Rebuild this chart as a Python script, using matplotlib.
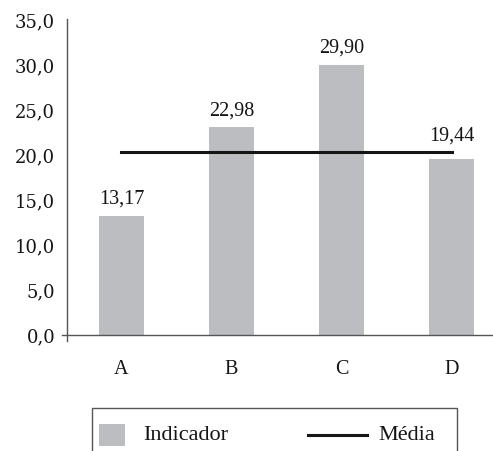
import matplotlib
matplotlib.use("Agg")
import matplotlib.pyplot as plt
from matplotlib.patches import Rectangle
from matplotlib.lines import Line2D

# valores do indicador por categoria
categorias = ["A", "B", "C", "D"]
indicador = [13.17, 22.98, 29.90, 19.44]
media = 20.3
yticks = [0, 5, 10, 15, 20, 25, 30, 35]

W, H = 493, 452
plt.rcParams['font.family'] = ['Liberation Serif', 'DejaVu Serif']

fig = plt.figure(figsize=(W / 100, H / 100), dpi=100)
ax = fig.add_axes([67 / W, 1 - 342 / H, 1 - 67 / W, (342 - 20) / H])

x = list(range(len(categorias)))
cinza = "#bcbdc0"
ax.bar(x, indicador, width=0.41, color=cinza, zorder=2)
ax.plot(x, [media] * len(x), color="#151515", lw=2.2, zorder=3)

# rotulos de valor sobre as barras (sobe o rotulo se bater na linha da media)
for xi, v in zip(x, indicador):
    off = 11 if 0 < media - v < 2.5 else 6
    ax.annotate(f"{v:.2f}".replace(".", ","), (xi, v), xytext=(0, off),
                textcoords="offset points", ha="center", va="bottom",
                fontsize=14.5, color="#151515")

ax.set_xlim(-0.495, 3.377)
ax.set_ylim(-0.7, 35)
ax.set_xticks(x)
ax.set_xticklabels(categorias, fontsize=14.5, color="#151515")
ax.set_yticks(yticks)
ax.set_yticklabels([f"{t:.1f}".replace(".", ",") for t in yticks],
                   fontsize=13, color="#151515", family="DejaVu Serif")
ax.tick_params(axis="both", length=0)
ax.tick_params(axis="y", pad=8.5)
ax.tick_params(axis="x", pad=13)

for s in ["top", "right", "bottom"]:
    ax.spines[s].set_visible(False)
ax.spines["left"].set_color("#555555")
ax.spines["left"].set_linewidth(1)
ax.axhline(0, xmin=-5 / 426, xmax=1, color="#555555", lw=1, clip_on=False, zorder=4)

# legenda
tf = fig.transFigure
fig.add_artist(Rectangle((92 / W, -0.1), 365 / W, (452 - 409) / H + 0.1, transform=tf,
                         fill=False, edgecolor="#555555", lw=1))
ly = 1 - 436 / H
fig.add_artist(Rectangle((99 / W, ly - 11 / H), 26 / W, 22 / H, transform=tf,
                         facecolor=cinza, edgecolor="none"))
fig.text(143 / W, ly, "Indicador", transform=tf, va="center", ha="left",
         fontsize=16, color="#151515")
fig.add_artist(Line2D([308 / W, 367 / W], [ly, ly], transform=tf, color="#151515", lw=2.2))
fig.text(378 / W, ly, "Média", transform=tf, va="center", ha="left",
         fontsize=16, color="#151515")

fig.savefig("out.png", dpi=100)
